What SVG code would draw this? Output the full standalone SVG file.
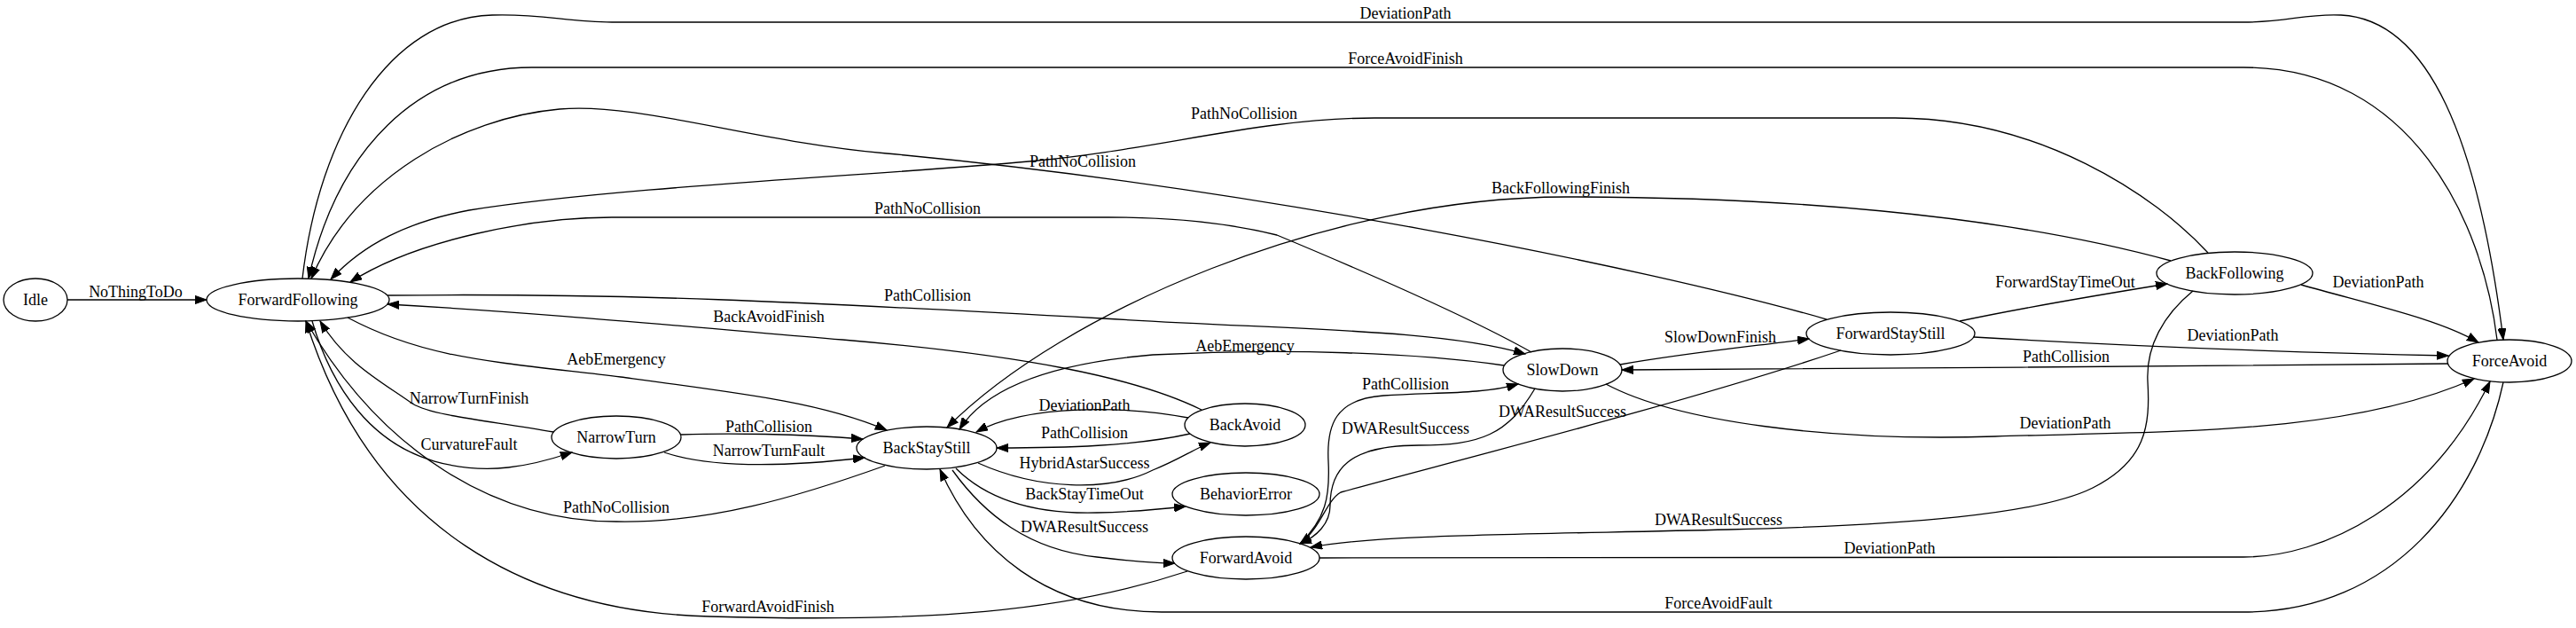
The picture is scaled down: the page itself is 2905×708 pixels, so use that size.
<svg xmlns="http://www.w3.org/2000/svg" width="2905" height="708" viewBox="0 0 2905 708">
<defs>
<marker id="ah" markerUnits="userSpaceOnUse" markerWidth="14" markerHeight="10" refX="13" refY="5" orient="auto">
<path d="M0,0.4 L13,5 L0,9.6 z" fill="#000" stroke="#000" stroke-width="1"/>
</marker>
<style>
text{font-family:"Liberation Serif","Times New Roman",serif;font-size:18px;text-anchor:middle;fill:#000}
.node ellipse{fill:none;stroke:#000;stroke-width:1.3}
#edges path{fill:none;stroke:#000;stroke-width:1.3;marker-end:url(#ah)}
</style>
</defs>
<rect width="2905" height="708" fill="#fff"/>
<g id="edges">
<path d="M76,338 L233,338"/>
<path d="M341,314 C360,150 440,20 555,17 C610,15 640,25 690,25 L2530,25 C2580,25 2600,15 2640,17 C2740,22 2795,160 2823,383"/>
<path d="M2816,383 C2800,250 2720,76 2530,76 L600,76 C470,76 380,170 348,314"/>
<path d="M2490,285 C2430,220 2300,133 2137,133 L1550,133 C1420,133 1300,170 1160,182 C1000,197 700,210 529,237 C460,250 410,275 373,315"/>
<path d="M2060,360 C1850,300 1400,210 1000,173 C850,160 720,115 631,123 C520,133 400,200 351,314"/>
<path d="M1727,397 C1670,365 1560,315 1440,265 C1380,250 1320,245 1250,245 L690,245 C600,245 470,270 395,318"/>
<path d="M437,333 C700,330 900,340 1243,359 C1450,372 1620,370 1720,399"/>
<path d="M1355,462 C1280,425 1150,400 950,383 C750,366 600,352 437,343"/>
<path d="M392,358 C480,405 560,408 700,425 C850,445 930,455 1000,485"/>
<path d="M352,362 C375,440 420,500 490,520 C550,537 600,525 645,510"/>
<path d="M624,487 C560,475 490,470 465,455 C430,430 390,410 361,362"/>
<path d="M768,490 C820,488 900,489 973,495"/>
<path d="M749,510 C800,527 880,527 975,516"/>
<path d="M998,525 C900,560 800,590 695,588 C560,588 430,510 345,362"/>
<path d="M1340,471 C1270,458 1160,455 1101,487"/>
<path d="M1342,489 C1280,503 1200,505 1124,505"/>
<path d="M1103,522 C1170,552 1250,555 1300,530 C1330,518 1345,507 1365,499"/>
<path d="M1078,528 C1110,560 1160,580 1237,578 C1280,577 1310,574 1337,571"/>
<path d="M1074,530 C1110,580 1160,620 1237,628 C1270,632 1300,635 1325,635"/>
<path d="M1339,644 C1200,690 1050,702 800,695 C600,690 420,600 345,362"/>
<path d="M2823,431 C2795,560 2700,690 2530,690 L1310,690 C1180,690 1100,620 1060,529"/>
<path d="M1696,412 C1600,398 1450,392 1300,400 C1180,410 1110,440 1082,484"/>
<path d="M2448,294 C2250,240 2000,222 1766,222 C1500,222 1200,350 1068,482"/>
<path d="M1827,411 C1900,398 1980,390 2040,382"/>
<path d="M2761,410 C2500,412 2100,416 1829,417"/>
<path d="M2226,380 C2400,390 2600,398 2761,401"/>
<path d="M2210,362 C2290,345 2370,332 2444,320"/>
<path d="M2595,321 C2680,345 2750,360 2795,386"/>
<path d="M2473,328 C2440,355 2420,390 2422,430 C2425,480 2420,520 2360,550 C2300,580 2150,592 1950,597 C1700,603 1550,603 1478,617"/>
<path d="M1488,629 L2530,628 C2620,628 2740,570 2808,430"/>
<path d="M1811,433 C1890,475 2060,498 2250,492 C2450,486 2650,490 2790,427"/>
<path d="M2076,395 C1900,455 1600,530 1512,555 C1495,565 1490,595 1466,613"/>
<path d="M1466,613 C1495,585 1500,560 1498,520 C1496,480 1505,450 1560,446 C1620,442 1670,445 1712,433"/>
<path d="M1731,438 C1700,490 1670,502 1600,502 C1520,502 1500,530 1500,570 C1500,590 1485,605 1466,613"/>
</g>
<g id="edge-labels">
<text x="153" y="335">NoThingToDo</text>
<text x="1585" y="21">DeviationPath</text>
<text x="1585" y="72">ForceAvoidFinish</text>
<text x="1403" y="134">PathNoCollision</text>
<text x="1221" y="188">PathNoCollision</text>
<text x="1046" y="241">PathNoCollision</text>
<text x="1046" y="339">PathCollision</text>
<text x="867" y="363">BackAvoidFinish</text>
<text x="695" y="411">AebEmergency</text>
<text x="529" y="507">CurvatureFault</text>
<text x="529" y="455">NarrowTurnFinish</text>
<text x="867" y="487">PathCollision</text>
<text x="867" y="514">NarrowTurnFault</text>
<text x="695" y="578">PathNoCollision</text>
<text x="1223" y="463">DeviationPath</text>
<text x="1223" y="494">PathCollision</text>
<text x="1223" y="528">HybridAstarSuccess</text>
<text x="1223" y="563">BackStayTimeOut</text>
<text x="1223" y="600">DWAResultSuccess</text>
<text x="866" y="690">ForwardAvoidFinish</text>
<text x="1938" y="686">ForceAvoidFault</text>
<text x="1404" y="396">AebEmergency</text>
<text x="1760" y="218">BackFollowingFinish</text>
<text x="1940" y="386">SlowDownFinish</text>
<text x="2330" y="408">PathCollision</text>
<text x="2518" y="384">DeviationPath</text>
<text x="2329" y="324">ForwardStayTimeOut</text>
<text x="2682" y="324">DeviationPath</text>
<text x="1938" y="592">DWAResultSuccess</text>
<text x="2131" y="624">DeviationPath</text>
<text x="2329" y="483">DeviationPath</text>
<text x="1762" y="470">DWAResultSuccess</text>
<text x="1585" y="439">PathCollision</text>
<text x="1585" y="489">DWAResultSuccess</text>
</g>
<g id="Idle" class="node"><ellipse cx="40" cy="338" rx="36" ry="24"/><text x="40" y="344">Idle</text></g>
<g id="ForwardFollowing" class="node"><ellipse cx="336" cy="338" rx="103" ry="24"/><text x="336" y="344">ForwardFollowing</text></g>
<g id="NarrowTurn" class="node"><ellipse cx="695" cy="493" rx="73" ry="24"/><text x="695" y="499">NarrowTurn</text></g>
<g id="BackStayStill" class="node"><ellipse cx="1045" cy="505" rx="79" ry="24"/><text x="1045" y="511">BackStayStill</text></g>
<g id="BackAvoid" class="node"><ellipse cx="1404" cy="479" rx="68" ry="24"/><text x="1404" y="485">BackAvoid</text></g>
<g id="BehaviorError" class="node"><ellipse cx="1405" cy="557" rx="83" ry="24"/><text x="1405" y="563">BehaviorError</text></g>
<g id="ForwardAvoid" class="node"><ellipse cx="1405" cy="629" rx="83" ry="24"/><text x="1405" y="635">ForwardAvoid</text></g>
<g id="SlowDown" class="node"><ellipse cx="1762" cy="417" rx="67" ry="24"/><text x="1762" y="423">SlowDown</text></g>
<g id="ForwardStayStill" class="node"><ellipse cx="2132" cy="376" rx="95" ry="24"/><text x="2132" y="382">ForwardStayStill</text></g>
<g id="BackFollowing" class="node"><ellipse cx="2520" cy="308" rx="88" ry="24"/><text x="2520" y="314">BackFollowing</text></g>
<g id="ForceAvoid" class="node"><ellipse cx="2830" cy="407" rx="70" ry="24"/><text x="2830" y="413">ForceAvoid</text></g>
</svg>
